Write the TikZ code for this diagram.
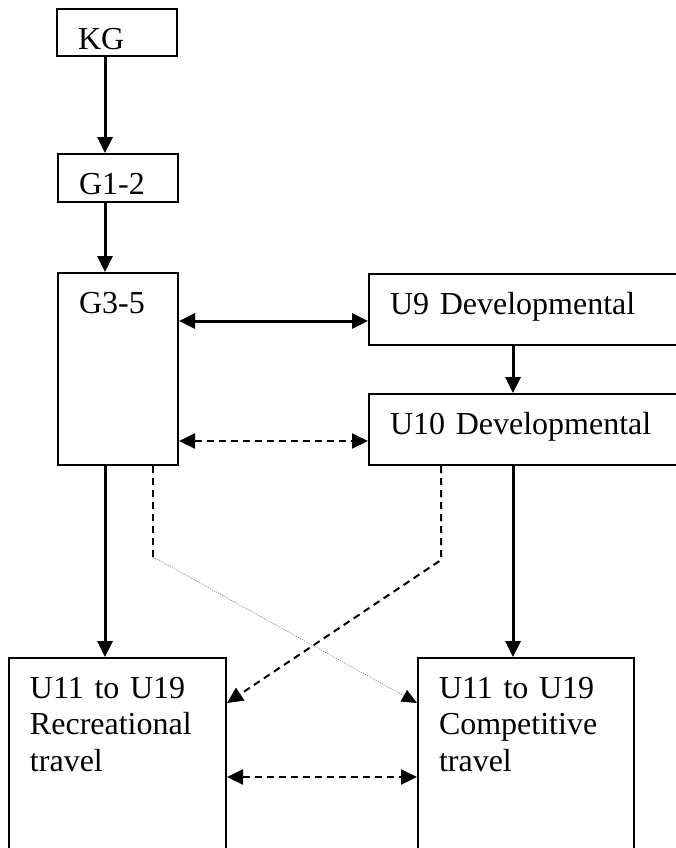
\documentclass[tikz,border=0pt]{standalone}
\usepackage{fontspec}
\setmainfont{Liberation Serif}
\usetikzlibrary{arrows.meta}

\begin{document}
\begin{tikzpicture}[
    x=0.5pt,y=-0.5pt,
    box/.style={draw,line width=1pt,anchor=north west,align=left,inner xsep=10.5pt,inner ysep=0pt,
        text height=20pt,font=\fontsize{16}{18.3}\selectfont},
    link/.style={line width=1.5pt},
    dlink/.style={line width=1pt,dash pattern=on 3.5pt off 2.5pt},
    thinlink/.style={line width=0.3pt,gray,dash pattern=on 0.6pt off 0.6pt},
    >={Triangle[length=8pt,width=7.5pt]}
]
\useasboundingbox (0,0) rectangle (676,848);
\clip (0,0) rectangle (676,848);

% boxes
\node[box,text width=39pt,text depth=3.5pt] (KG) at (56,8) {KG};
\node[box,text width=39pt,text depth=4pt] (G12) at (57,153) {G1-2};
\node[box,text width=39pt,text depth=76pt] (G35) at (57,272) {G3-5};
\node[box,text width=149pt,text depth=15.5pt] (U9) at (368,273) {U9 Developmental};
\node[box,text width=149pt,text depth=15.5pt] (U10) at (368,393) {U10 Developmental};
\node[box,text width=87.5pt,text depth=90pt] (Rec) at (8,657) {U11 to U19\\Recreational\\travel};
\node[box,text width=87pt,text depth=90pt] (Comp) at (417,657) {U11 to U19\\Competitive\\travel};

% columns and rows for the connectors
\coordinate (lcol) at (105,0);
\coordinate (rcol) at (513,0);
\coordinate (solidrow) at (0,321);
\coordinate (dashrow) at (0,441);
\coordinate (crossrow) at (0,703);
\coordinate (botrow) at (0,777);
\coordinate (gbend) at (153,557);
\coordinate (ubend) at (441,560);

\draw[link,->] (KG.south -| lcol) -- (G12.north -| lcol);
\draw[link,->] (G12.south -| lcol) -- (G35.north -| lcol);
\draw[link,<->] (G35.east |- solidrow) -- (U9.west |- solidrow);
\draw[link,->] (U9.south -| rcol) -- (U10.north -| rcol);
\draw[dlink,<->] (G35.east |- dashrow) -- (U10.west |- dashrow);
\draw[link,->] (G35.south -| lcol) -- (Rec.north -| lcol);
\draw[link,->] (U10.south -| rcol) -- (Comp.north -| rcol);

% crossing lines
\draw[dlink] (G35.south -| gbend) -- (gbend);
\draw[thinlink,-{Triangle[length=7.5pt,width=6.5pt,black]}] (gbend) -- (Comp.west |- crossrow);
\draw[dlink,->] (U10.south -| ubend) -- (ubend) -- (Rec.east |- crossrow);

\draw[dlink,<->] (Rec.east |- botrow) -- (Comp.west |- botrow);
\end{tikzpicture}
\end{document}
